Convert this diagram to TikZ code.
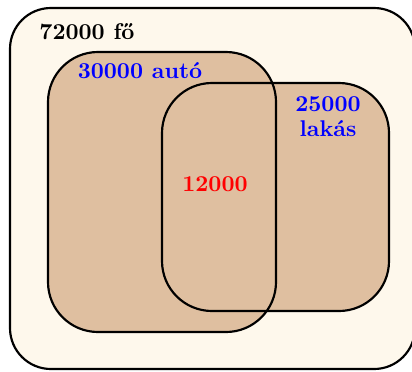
\documentclass[tikz,border=0pt]{standalone}
\definecolor{cream}{RGB}{254,248,236}
\definecolor{tan}{RGB}{223,191,160}
\begin{document}
\begin{tikzpicture}[x=0.44pt,y=-0.44pt,
  setbox/.style={line width=0.95pt},
  lbl/.style={font=\bfseries, inner sep=0pt}]
\useasboundingbox (0,0) rectangle (412,371);
\fill[cream, rounded corners=18pt] (10,8) rectangle (415,369);
\draw[setbox, rounded corners=18pt] (10,8) rectangle (415,369);
\fill[tan, rounded corners=22pt] (48,52) rectangle (276,332);
\fill[tan, rounded corners=22pt] (162,83) rectangle (389,311);
\draw[setbox, rounded corners=22pt] (48,52) rectangle (276,332);
\draw[setbox, rounded corners=22pt] (162,83) rectangle (389,311);
\node[lbl, anchor=west] (u) at (39,32) {72000 fő};
\node[lbl, text=blue] (a) at (140,71) {30000 autó};
\node[lbl, text=blue, align=center] (l) at (328,117) {25000\\[-1pt]lakás};
\node[lbl, text=red] (m) at (215,184) {12000};
\end{tikzpicture}
\end{document}
